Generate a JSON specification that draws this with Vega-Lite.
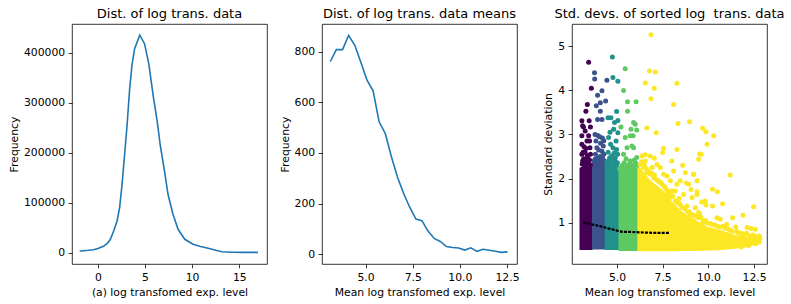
{
  "$schema": "https://vega.github.io/schema/vega-lite/v6.json",
  "background": "white",
  "padding": {"left": 8, "top": 7, "right": 0, "bottom": 0},
  "spacing": 55,
  "bounds": "flush",
  "config": {
    "font": "DejaVu Sans",
    "view": {"stroke": "#000", "strokeWidth": 0.8},
    "axis": {
      "grid": false,
      "domain": false,
      "tickColor": "#000",
      "tickSize": 3.8,
      "tickWidth": 0.8,
      "labelColor": "#000",
      "labelFontSize": 10.8,
      "labelPadding": 3.5,
      "labelFlush": false,
      "labelOverlap": false,
      "titleColor": "#000",
      "titleFontSize": 10.8,
      "titleFontWeight": "normal",
      "titlePadding": 4
    },
    "title": {"fontSize": 13, "fontWeight": "normal", "color": "#000", "offset": 3, "baseline": "bottom", "anchor": "middle"}
  },
  "datasets": {
    "all_levels": [
      {"level": -1.93, "freq": 3400},
      {"level": -1.5, "freq": 4000},
      {"level": -1.0, "freq": 4800},
      {"level": -0.45, "freq": 6000},
      {"level": 0.0, "freq": 8500},
      {"level": 0.6, "freq": 12800},
      {"level": 1.0, "freq": 18500},
      {"level": 1.33, "freq": 26800},
      {"level": 1.68, "freq": 43400},
      {"level": 2.04, "freq": 63400},
      {"level": 2.31, "freq": 90000},
      {"level": 2.57, "freq": 136800},
      {"level": 2.84, "freq": 196800},
      {"level": 3.1, "freq": 255000},
      {"level": 3.37, "freq": 326800},
      {"level": 3.62, "freq": 375000},
      {"level": 3.9, "freq": 408000},
      {"level": 4.45, "freq": 435000},
      {"level": 4.95, "freq": 418000},
      {"level": 5.4, "freq": 378000},
      {"level": 5.9, "freq": 310000},
      {"level": 6.3, "freq": 262000},
      {"level": 6.63, "freq": 213400},
      {"level": 7.07, "freq": 163400},
      {"level": 7.44, "freq": 116800},
      {"level": 7.97, "freq": 76800},
      {"level": 8.51, "freq": 46800},
      {"level": 9.22, "freq": 26800},
      {"level": 10.1, "freq": 16800},
      {"level": 10.9, "freq": 12500},
      {"level": 11.7, "freq": 8800},
      {"level": 12.5, "freq": 5000},
      {"level": 13.15, "freq": 2000},
      {"level": 14.2, "freq": 800},
      {"level": 15.5, "freq": 700},
      {"level": 16.98, "freq": 700}
    ],
    "mean_levels": [
      {"mean": 3.13, "freq": 761},
      {"mean": 3.45, "freq": 808},
      {"mean": 3.78, "freq": 808},
      {"mean": 4.10, "freq": 864},
      {"mean": 4.43, "freq": 825},
      {"mean": 4.75, "freq": 758},
      {"mean": 5.07, "freq": 688},
      {"mean": 5.40, "freq": 645},
      {"mean": 5.72, "freq": 523},
      {"mean": 6.05, "freq": 476},
      {"mean": 6.37, "freq": 385},
      {"mean": 6.69, "freq": 305},
      {"mean": 7.02, "freq": 240},
      {"mean": 7.34, "freq": 186},
      {"mean": 7.67, "freq": 139},
      {"mean": 7.99, "freq": 133},
      {"mean": 8.31, "freq": 92},
      {"mean": 8.64, "freq": 63},
      {"mean": 8.96, "freq": 51},
      {"mean": 9.29, "freq": 31},
      {"mean": 9.61, "freq": 27},
      {"mean": 9.93, "freq": 25},
      {"mean": 10.26, "freq": 17},
      {"mean": 10.58, "freq": 26},
      {"mean": 10.91, "freq": 12},
      {"mean": 11.23, "freq": 20},
      {"mean": 11.56, "freq": 16},
      {"mean": 11.88, "freq": 12},
      {"mean": 12.21, "freq": 8},
      {"mean": 12.53, "freq": 10}
    ],
    "sd_cores": [
      {"g": 0, "mean": 2.95, "lo": 0.38, "hi": 2.24},
      {"g": 0, "mean": 3.2, "lo": 0.38, "hi": 2.3},
      {"g": 0, "mean": 3.5, "lo": 0.38, "hi": 2.27},
      {"g": 0, "mean": 3.67, "lo": 0.38, "hi": 2.27},
      {"g": 1, "mean": 3.64, "lo": 0.39, "hi": 2.36},
      {"g": 1, "mean": 4.0, "lo": 0.39, "hi": 2.4},
      {"g": 1, "mean": 4.36, "lo": 0.39, "hi": 2.36},
      {"g": 2, "mean": 4.33, "lo": 0.38, "hi": 2.34},
      {"g": 2, "mean": 4.8, "lo": 0.38, "hi": 2.4},
      {"g": 2, "mean": 5.11, "lo": 0.38, "hi": 2.3},
      {"g": 3, "mean": 5.08, "lo": 0.36, "hi": 2.18},
      {"g": 3, "mean": 5.6, "lo": 0.36, "hi": 2.2},
      {"g": 3, "mean": 6.15, "lo": 0.36, "hi": 2.26},
      {"g": 4, "mean": 6.12, "lo": 0.36, "hi": 2.28},
      {"g": 4, "mean": 6.3, "lo": 0.35, "hi": 2.24},
      {"g": 4, "mean": 6.8, "lo": 0.35, "hi": 1.97},
      {"g": 4, "mean": 7.5, "lo": 0.35, "hi": 1.74},
      {"g": 4, "mean": 8.1, "lo": 0.35, "hi": 1.44},
      {"g": 4, "mean": 8.65, "lo": 0.36, "hi": 1.22},
      {"g": 4, "mean": 9.4, "lo": 0.36, "hi": 1.04},
      {"g": 4, "mean": 10.0, "lo": 0.37, "hi": 0.9},
      {"g": 4, "mean": 10.75, "lo": 0.38, "hi": 0.82},
      {"g": 4, "mean": 11.45, "lo": 0.41, "hi": 0.72},
      {"g": 4, "mean": 12.2, "lo": 0.45, "hi": 0.68},
      {"g": 4, "mean": 12.72, "lo": 0.52, "hi": 0.64}
    ],
    "sd_points": [
      {"g": 0, "mean": 3.45, "sd": 4.64},
      {"g": 0, "mean": 3.6, "sd": 4.05},
      {"g": 0, "mean": 3.38, "sd": 3.68},
      {"g": 0, "mean": 3.3, "sd": 3.53},
      {"g": 0, "mean": 3.08, "sd": 3.31},
      {"g": 0, "mean": 3.17, "sd": 3.17},
      {"g": 0, "mean": 3.48, "sd": 3.31},
      {"g": 0, "mean": 3.55, "sd": 3.17},
      {"g": 0, "mean": 3.26, "sd": 3.08},
      {"g": 0, "mean": 3.08, "sd": 2.97},
      {"g": 0, "mean": 3.45, "sd": 2.97},
      {"g": 0, "mean": 3.08, "sd": 2.78},
      {"g": 0, "mean": 3.36, "sd": 2.85},
      {"g": 0, "mean": 3.52, "sd": 2.7},
      {"g": 0, "mean": 3.55, "sd": 2.55},
      {"g": 0, "mean": 3.08, "sd": 2.55},
      {"g": 0, "mean": 3.26, "sd": 2.59},
      {"g": 0, "mean": 3.4, "sd": 2.47},
      {"g": 0, "mean": 3.12, "sd": 2.4},
      {"g": 0, "mean": 3.2, "sd": 2.72},
      {"g": 0, "mean": 3.5, "sd": 2.85},
      {"g": 0, "mean": 3.3, "sd": 2.68},
      {"g": 0, "mean": 3.5, "sd": 2.42},
      {"g": 0, "mean": 3.15, "sd": 2.6},
      {"g": 0, "mean": 3.18, "sd": 2.45},
      {"g": 0, "mean": 3.28, "sd": 2.38},
      {"g": 0, "mean": 3.38, "sd": 2.52},
      {"g": 0, "mean": 3.12, "sd": 3.2},
      {"g": 0, "mean": 3.1, "sd": 2.33},
      {"g": 0, "mean": 3.22, "sd": 2.36},
      {"g": 0, "mean": 3.35, "sd": 2.32},
      {"g": 0, "mean": 3.45, "sd": 2.34},
      {"g": 0, "mean": 3.55, "sd": 2.31},
      {"g": 1, "mean": 3.77, "sd": 4.4},
      {"g": 1, "mean": 3.78, "sd": 4.26},
      {"g": 1, "mean": 4.18, "sd": 3.99},
      {"g": 1, "mean": 3.94, "sd": 3.89},
      {"g": 1, "mean": 4.09, "sd": 3.72},
      {"g": 1, "mean": 4.38, "sd": 3.76},
      {"g": 1, "mean": 3.87, "sd": 3.65},
      {"g": 1, "mean": 4.09, "sd": 3.53},
      {"g": 1, "mean": 3.94, "sd": 3.34},
      {"g": 1, "mean": 4.18, "sd": 3.34},
      {"g": 1, "mean": 4.45, "sd": 4.23},
      {"g": 1, "mean": 3.8, "sd": 3.0},
      {"g": 1, "mean": 3.95, "sd": 2.98},
      {"g": 1, "mean": 4.05, "sd": 2.95},
      {"g": 1, "mean": 4.2, "sd": 2.92},
      {"g": 1, "mean": 4.28, "sd": 2.86},
      {"g": 1, "mean": 3.85, "sd": 2.85},
      {"g": 1, "mean": 4.1, "sd": 2.8},
      {"g": 1, "mean": 4.25, "sd": 2.74},
      {"g": 1, "mean": 3.9, "sd": 2.7},
      {"g": 1, "mean": 4.0, "sd": 2.65},
      {"g": 1, "mean": 4.18, "sd": 2.62},
      {"g": 1, "mean": 3.82, "sd": 2.55},
      {"g": 1, "mean": 4.28, "sd": 2.55},
      {"g": 1, "mean": 4.08, "sd": 2.5},
      {"g": 1, "mean": 3.95, "sd": 2.47},
      {"g": 1, "mean": 4.22, "sd": 2.46},
      {"g": 1, "mean": 3.8, "sd": 2.44},
      {"g": 1, "mean": 3.75, "sd": 2.4},
      {"g": 1, "mean": 3.88, "sd": 2.42},
      {"g": 1, "mean": 4.0, "sd": 2.44},
      {"g": 1, "mean": 4.15, "sd": 2.42},
      {"g": 1, "mean": 4.3, "sd": 2.4},
      {"g": 2, "mean": 4.75, "sd": 4.76},
      {"g": 2, "mean": 4.78, "sd": 4.29},
      {"g": 2, "mean": 5.05, "sd": 4.21},
      {"g": 2, "mean": 4.51, "sd": 3.38},
      {"g": 2, "mean": 4.67, "sd": 3.38},
      {"g": 2, "mean": 4.98, "sd": 3.52},
      {"g": 2, "mean": 5.05, "sd": 3.32},
      {"g": 2, "mean": 4.87, "sd": 3.27},
      {"g": 2, "mean": 4.54, "sd": 2.93},
      {"g": 2, "mean": 4.78, "sd": 2.7},
      {"g": 2, "mean": 4.98, "sd": 2.66},
      {"g": 2, "mean": 5.05, "sd": 3.04},
      {"g": 2, "mean": 4.6, "sd": 2.47},
      {"g": 2, "mean": 4.91, "sd": 2.47},
      {"g": 2, "mean": 5.04, "sd": 2.55},
      {"g": 2, "mean": 4.52, "sd": 2.6},
      {"g": 2, "mean": 4.65, "sd": 2.78},
      {"g": 2, "mean": 4.72, "sd": 2.52},
      {"g": 2, "mean": 4.85, "sd": 2.58},
      {"g": 2, "mean": 4.95, "sd": 2.85},
      {"g": 2, "mean": 4.62, "sd": 3.05},
      {"g": 2, "mean": 4.82, "sd": 3.12},
      {"g": 2, "mean": 4.45, "sd": 2.38},
      {"g": 2, "mean": 4.58, "sd": 2.42},
      {"g": 2, "mean": 4.75, "sd": 2.44},
      {"g": 2, "mean": 4.9, "sd": 2.39},
      {"g": 2, "mean": 5.02, "sd": 2.36},
      {"g": 3, "mean": 5.45, "sd": 4.49},
      {"g": 3, "mean": 5.36, "sd": 4.0},
      {"g": 3, "mean": 5.58, "sd": 3.74},
      {"g": 3, "mean": 6.05, "sd": 3.74},
      {"g": 3, "mean": 5.58, "sd": 3.53},
      {"g": 3, "mean": 5.91, "sd": 3.27},
      {"g": 3, "mean": 6.0, "sd": 3.23},
      {"g": 3, "mean": 5.22, "sd": 3.17},
      {"g": 3, "mean": 5.77, "sd": 3.12},
      {"g": 3, "mean": 6.08, "sd": 3.1},
      {"g": 3, "mean": 5.45, "sd": 2.93},
      {"g": 3, "mean": 5.73, "sd": 2.97},
      {"g": 3, "mean": 5.88, "sd": 2.97},
      {"g": 3, "mean": 5.82, "sd": 2.74},
      {"g": 3, "mean": 5.55, "sd": 2.7},
      {"g": 3, "mean": 5.91, "sd": 2.7},
      {"g": 3, "mean": 5.36, "sd": 2.55},
      {"g": 3, "mean": 6.0, "sd": 2.36},
      {"g": 3, "mean": 5.73, "sd": 2.4},
      {"g": 3, "mean": 5.28, "sd": 2.3},
      {"g": 3, "mean": 5.4, "sd": 2.36},
      {"g": 3, "mean": 5.55, "sd": 2.28},
      {"g": 3, "mean": 5.68, "sd": 2.33},
      {"g": 3, "mean": 5.82, "sd": 2.3},
      {"g": 3, "mean": 5.95, "sd": 2.42},
      {"g": 3, "mean": 6.05, "sd": 2.33},
      {"g": 3, "mean": 6.08, "sd": 2.48},
      {"g": 3, "mean": 5.5, "sd": 2.45},
      {"g": 3, "mean": 5.15, "sd": 2.23},
      {"g": 3, "mean": 5.3, "sd": 2.22},
      {"g": 3, "mean": 5.47, "sd": 2.24},
      {"g": 3, "mean": 5.65, "sd": 2.23},
      {"g": 3, "mean": 5.9, "sd": 2.25},
      {"g": 3, "mean": 6.1, "sd": 2.3},
      {"g": 4, "mean": 6.86, "sd": 5.26},
      {"g": 4, "mean": 6.78, "sd": 4.44},
      {"g": 4, "mean": 7.1, "sd": 4.42},
      {"g": 4, "mean": 6.55, "sd": 4.17},
      {"g": 4, "mean": 8.28, "sd": 4.16},
      {"g": 4, "mean": 7.04, "sd": 4.05},
      {"g": 4, "mean": 6.86, "sd": 3.81},
      {"g": 4, "mean": 8.1, "sd": 3.68},
      {"g": 4, "mean": 8.34, "sd": 3.25},
      {"g": 4, "mean": 8.97, "sd": 3.29},
      {"g": 4, "mean": 7.15, "sd": 3.04},
      {"g": 4, "mean": 6.64, "sd": 3.15},
      {"g": 4, "mean": 7.55, "sd": 2.69},
      {"g": 4, "mean": 7.5, "sd": 2.59},
      {"g": 4, "mean": 8.28, "sd": 2.66},
      {"g": 4, "mean": 6.55, "sd": 2.54},
      {"g": 4, "mean": 6.37, "sd": 2.51},
      {"g": 4, "mean": 6.82, "sd": 2.51},
      {"g": 4, "mean": 7.04, "sd": 2.46},
      {"g": 4, "mean": 9.52, "sd": 2.56},
      {"g": 4, "mean": 9.69, "sd": 3.14},
      {"g": 4, "mean": 9.87, "sd": 3.06},
      {"g": 4, "mean": 10.29, "sd": 2.97},
      {"g": 4, "mean": 9.93, "sd": 2.78},
      {"g": 4, "mean": 9.61, "sd": 2.55},
      {"g": 4, "mean": 9.47, "sd": 2.44},
      {"g": 4, "mean": 11.2, "sd": 2.08},
      {"g": 4, "mean": 9.2, "sd": 2.1},
      {"g": 4, "mean": 10.23, "sd": 1.76},
      {"g": 4, "mean": 10.49, "sd": 1.7},
      {"g": 4, "mean": 9.38, "sd": 1.7},
      {"g": 4, "mean": 9.83, "sd": 1.49},
      {"g": 4, "mean": 9.64, "sd": 1.47},
      {"g": 4, "mean": 10.78, "sd": 1.43},
      {"g": 4, "mean": 10.23, "sd": 1.38},
      {"g": 4, "mean": 9.87, "sd": 1.4},
      {"g": 4, "mean": 12.48, "sd": 1.36},
      {"g": 4, "mean": 9.52, "sd": 1.19},
      {"g": 4, "mean": 10.47, "sd": 1.11},
      {"g": 4, "mean": 10.65, "sd": 1.08},
      {"g": 4, "mean": 11.33, "sd": 1.11},
      {"g": 4, "mean": 11.9, "sd": 1.17},
      {"g": 4, "mean": 9.74, "sd": 1.04},
      {"g": 4, "mean": 9.2, "sd": 1.04},
      {"g": 4, "mean": 12.12, "sd": 0.89},
      {"g": 4, "mean": 12.35, "sd": 0.87},
      {"g": 4, "mean": 12.57, "sd": 0.85},
      {"g": 4, "mean": 11.9, "sd": 0.75},
      {"g": 4, "mean": 12.57, "sd": 0.68},
      {"g": 4, "mean": 12.7, "sd": 0.58},
      {"g": 4, "mean": 6.28, "sd": 2.32},
      {"g": 4, "mean": 6.46, "sd": 2.25},
      {"g": 4, "mean": 6.64, "sd": 2.13},
      {"g": 4, "mean": 6.92, "sd": 2.25},
      {"g": 4, "mean": 7.19, "sd": 2.32},
      {"g": 4, "mean": 7.37, "sd": 2.25},
      {"g": 4, "mean": 7.0, "sd": 2.02},
      {"g": 4, "mean": 7.28, "sd": 1.95},
      {"g": 4, "mean": 7.46, "sd": 1.87},
      {"g": 4, "mean": 7.74, "sd": 2.06},
      {"g": 4, "mean": 7.92, "sd": 1.95},
      {"g": 4, "mean": 8.1, "sd": 2.17},
      {"g": 4, "mean": 8.46, "sd": 1.95},
      {"g": 4, "mean": 8.74, "sd": 2.13},
      {"g": 4, "mean": 9.19, "sd": 2.1},
      {"g": 4, "mean": 9.38, "sd": 1.95},
      {"g": 4, "mean": 8.92, "sd": 1.87},
      {"g": 4, "mean": 7.64, "sd": 1.79},
      {"g": 4, "mean": 8.19, "sd": 1.72},
      {"g": 4, "mean": 8.65, "sd": 1.64},
      {"g": 4, "mean": 9.11, "sd": 1.57},
      {"g": 4, "mean": 9.38, "sd": 1.64},
      {"g": 4, "mean": 7.92, "sd": 1.57},
      {"g": 4, "mean": 8.37, "sd": 1.45},
      {"g": 4, "mean": 8.83, "sd": 1.38},
      {"g": 4, "mean": 9.29, "sd": 1.34},
      {"g": 4, "mean": 8.1, "sd": 1.3},
      {"g": 4, "mean": 8.56, "sd": 1.19},
      {"g": 4, "mean": 9.01, "sd": 1.15},
      {"g": 4, "mean": 9.47, "sd": 1.23},
      {"g": 4, "mean": 7.28, "sd": 1.68},
      {"g": 4, "mean": 7.74, "sd": 1.64},
      {"g": 4, "mean": 6.82, "sd": 2.1},
      {"g": 4, "mean": 6.55, "sd": 2.4},
      {"g": 4, "mean": 7.55, "sd": 2.1},
      {"g": 4, "mean": 8.0, "sd": 2.4},
      {"g": 4, "mean": 8.6, "sd": 2.3},
      {"g": 4, "mean": 8.28, "sd": 1.87},
      {"g": 4, "mean": 8.0, "sd": 1.72},
      {"g": 4, "mean": 8.8, "sd": 1.9},
      {"g": 4, "mean": 9.05, "sd": 1.75},
      {"g": 4, "mean": 9.9, "sd": 1.0},
      {"g": 4, "mean": 10.2, "sd": 0.96},
      {"g": 4, "mean": 10.5, "sd": 0.92},
      {"g": 4, "mean": 10.9, "sd": 0.88},
      {"g": 4, "mean": 11.2, "sd": 0.83},
      {"g": 4, "mean": 11.6, "sd": 0.78},
      {"g": 4, "mean": 12.0, "sd": 0.74},
      {"g": 4, "mean": 12.3, "sd": 0.7},
      {"g": 4, "mean": 12.72, "sd": 0.63},
      {"g": 4, "mean": 11.0, "sd": 0.96},
      {"g": 4, "mean": 11.5, "sd": 0.9},
      {"g": 4, "mean": 12.6, "sd": 0.52},
      {"g": 4, "mean": 12.78, "sd": 0.56},
      {"g": 4, "mean": 12.2, "sd": 0.48},
      {"g": 4, "mean": 11.8, "sd": 0.45},
      {"g": 4, "mean": 9.6, "sd": 1.12},
      {"g": 4, "mean": 8.95, "sd": 1.25},
      {"g": 4, "mean": 8.4, "sd": 1.55},
      {"g": 4, "mean": 6.35, "sd": 2.38},
      {"g": 4, "mean": 6.5, "sd": 2.3},
      {"g": 4, "mean": 6.62, "sd": 2.22},
      {"g": 4, "mean": 6.75, "sd": 2.15},
      {"g": 4, "mean": 6.9, "sd": 2.12},
      {"g": 4, "mean": 7.05, "sd": 2.08},
      {"g": 4, "mean": 7.15, "sd": 1.98},
      {"g": 4, "mean": 7.3, "sd": 1.92},
      {"g": 4, "mean": 7.42, "sd": 1.9},
      {"g": 4, "mean": 7.6, "sd": 1.82},
      {"g": 4, "mean": 7.7, "sd": 1.75},
      {"g": 4, "mean": 7.82, "sd": 1.7},
      {"g": 4, "mean": 7.95, "sd": 1.62},
      {"g": 4, "mean": 8.05, "sd": 1.6},
      {"g": 4, "mean": 8.2, "sd": 1.5},
      {"g": 4, "mean": 8.3, "sd": 1.45},
      {"g": 4, "mean": 8.45, "sd": 1.42},
      {"g": 4, "mean": 8.55, "sd": 1.35},
      {"g": 4, "mean": 8.7, "sd": 1.32},
      {"g": 4, "mean": 8.85, "sd": 1.25},
      {"g": 4, "mean": 9.0, "sd": 1.2},
      {"g": 4, "mean": 9.15, "sd": 1.18},
      {"g": 4, "mean": 9.3, "sd": 1.15},
      {"g": 4, "mean": 9.45, "sd": 1.12},
      {"g": 4, "mean": 9.7, "sd": 1.02},
      {"g": 4, "mean": 9.85, "sd": 1.05},
      {"g": 4, "mean": 10.1, "sd": 0.98},
      {"g": 4, "mean": 10.35, "sd": 0.95},
      {"g": 4, "mean": 10.6, "sd": 0.9},
      {"g": 4, "mean": 10.8, "sd": 0.92},
      {"g": 4, "mean": 11.05, "sd": 0.86},
      {"g": 4, "mean": 11.3, "sd": 0.8},
      {"g": 4, "mean": 11.55, "sd": 0.8},
      {"g": 4, "mean": 11.75, "sd": 0.76},
      {"g": 4, "mean": 12.1, "sd": 0.76},
      {"g": 4, "mean": 12.45, "sd": 0.72},
      {"g": 4, "mean": 12.65, "sd": 0.68},
      {"g": 4, "mean": 12.8, "sd": 0.7},
      {"g": 4, "mean": 12.5, "sd": 0.55},
      {"g": 4, "mean": 12.82, "sd": 0.64}
    ],
    "sd_trend": [
      {"mean": 3.15, "sd": 1.01},
      {"mean": 3.5, "sd": 0.97},
      {"mean": 4.0, "sd": 0.93},
      {"mean": 4.5, "sd": 0.87},
      {"mean": 4.75, "sd": 0.85},
      {"mean": 5.0, "sd": 0.82},
      {"mean": 5.3, "sd": 0.79},
      {"mean": 5.8, "sd": 0.79},
      {"mean": 6.3, "sd": 0.78},
      {"mean": 7.0, "sd": 0.77},
      {"mean": 7.5, "sd": 0.77},
      {"mean": 7.9, "sd": 0.77}
    ]
  },
  "hconcat": [
    {
      "title": "Dist. of log trans. data",
      "width": 195,
      "height": 240,
      "data": {"name": "all_levels"},
      "mark": {"type": "line", "color": "#1f77b4", "strokeWidth": 1.6},
      "encoding": {
        "x": {
          "field": "level",
          "type": "quantitative",
          "scale": {"domain": [-2.74, 17.94], "nice": false, "zero": false},
          "axis": {"title": "(a) log transfomed exp. level", "values": [0, 5, 10, 15], "format": "d"}
        },
        "y": {
          "field": "freq",
          "type": "quantitative",
          "scale": {"domain": [-22600, 457400], "nice": false, "zero": false},
          "axis": {"title": "Frequency", "values": [0, 100000, 200000, 300000, 400000], "format": "d"}
        }
      }
    },
    {
      "title": "Dist. of log trans. data means",
      "width": 195,
      "height": 240,
      "data": {"name": "mean_levels"},
      "mark": {"type": "line", "color": "#1f77b4", "strokeWidth": 1.6},
      "encoding": {
        "x": {
          "field": "mean",
          "type": "quantitative",
          "scale": {"domain": [2.69, 13.03], "nice": false, "zero": false},
          "axis": {"title": "Mean log transfomed exp. level", "values": [5, 7.5, 10, 12.5], "format": ".1f"}
        },
        "y": {
          "field": "freq",
          "type": "quantitative",
          "scale": {"domain": [-38, 909], "nice": false, "zero": false},
          "axis": {"title": "Frequency", "values": [0, 200, 400, 600, 800], "format": "d"}
        }
      }
    },
    {
      "title": "Std. devs. of sorted log\u00a0 trans. data",
      "width": 195,
      "height": 240,
      "encoding": {
        "x": {
          "field": "mean",
          "type": "quantitative",
          "scale": {"domain": [2.54, 13.21], "nice": false, "zero": false},
          "axis": {"title": "Mean log transfomed exp. level", "values": [5, 7.5, 10, 12.5], "format": ".1f"}
        }
      },
      "layer": [
        {
          "data": {"name": "sd_cores"},
          "mark": {"type": "area", "opacity": 1},
          "encoding": {
            "y": {
              "field": "lo",
              "type": "quantitative",
              "scale": {"domain": [0.063, 5.506], "nice": false, "zero": false},
              "axis": {"title": "Standard deviation", "values": [1, 2, 3, 4, 5], "format": "d"}
            },
            "y2": {"field": "hi"},
            "color": {
              "field": "g",
              "type": "nominal",
              "scale": {"domain": [0, 1, 2, 3, 4], "range": ["#440154", "#3b528b", "#21918c", "#5ec962", "#fde725"]},
              "legend": null
            },
            "order": {"field": "g"}
          }
        },
        {
          "data": {"name": "sd_points"},
          "mark": {"type": "circle", "size": 25, "opacity": 1},
          "encoding": {
            "y": {"field": "sd", "type": "quantitative"},
            "color": {"field": "g", "type": "nominal", "legend": null}
          }
        },
        {
          "data": {"name": "sd_trend"},
          "mark": {"type": "line", "color": "#000", "strokeWidth": 2.2, "strokeDash": [3, 1.2]},
          "encoding": {
            "y": {"field": "sd", "type": "quantitative"}
          }
        }
      ]
    }
  ]
}
